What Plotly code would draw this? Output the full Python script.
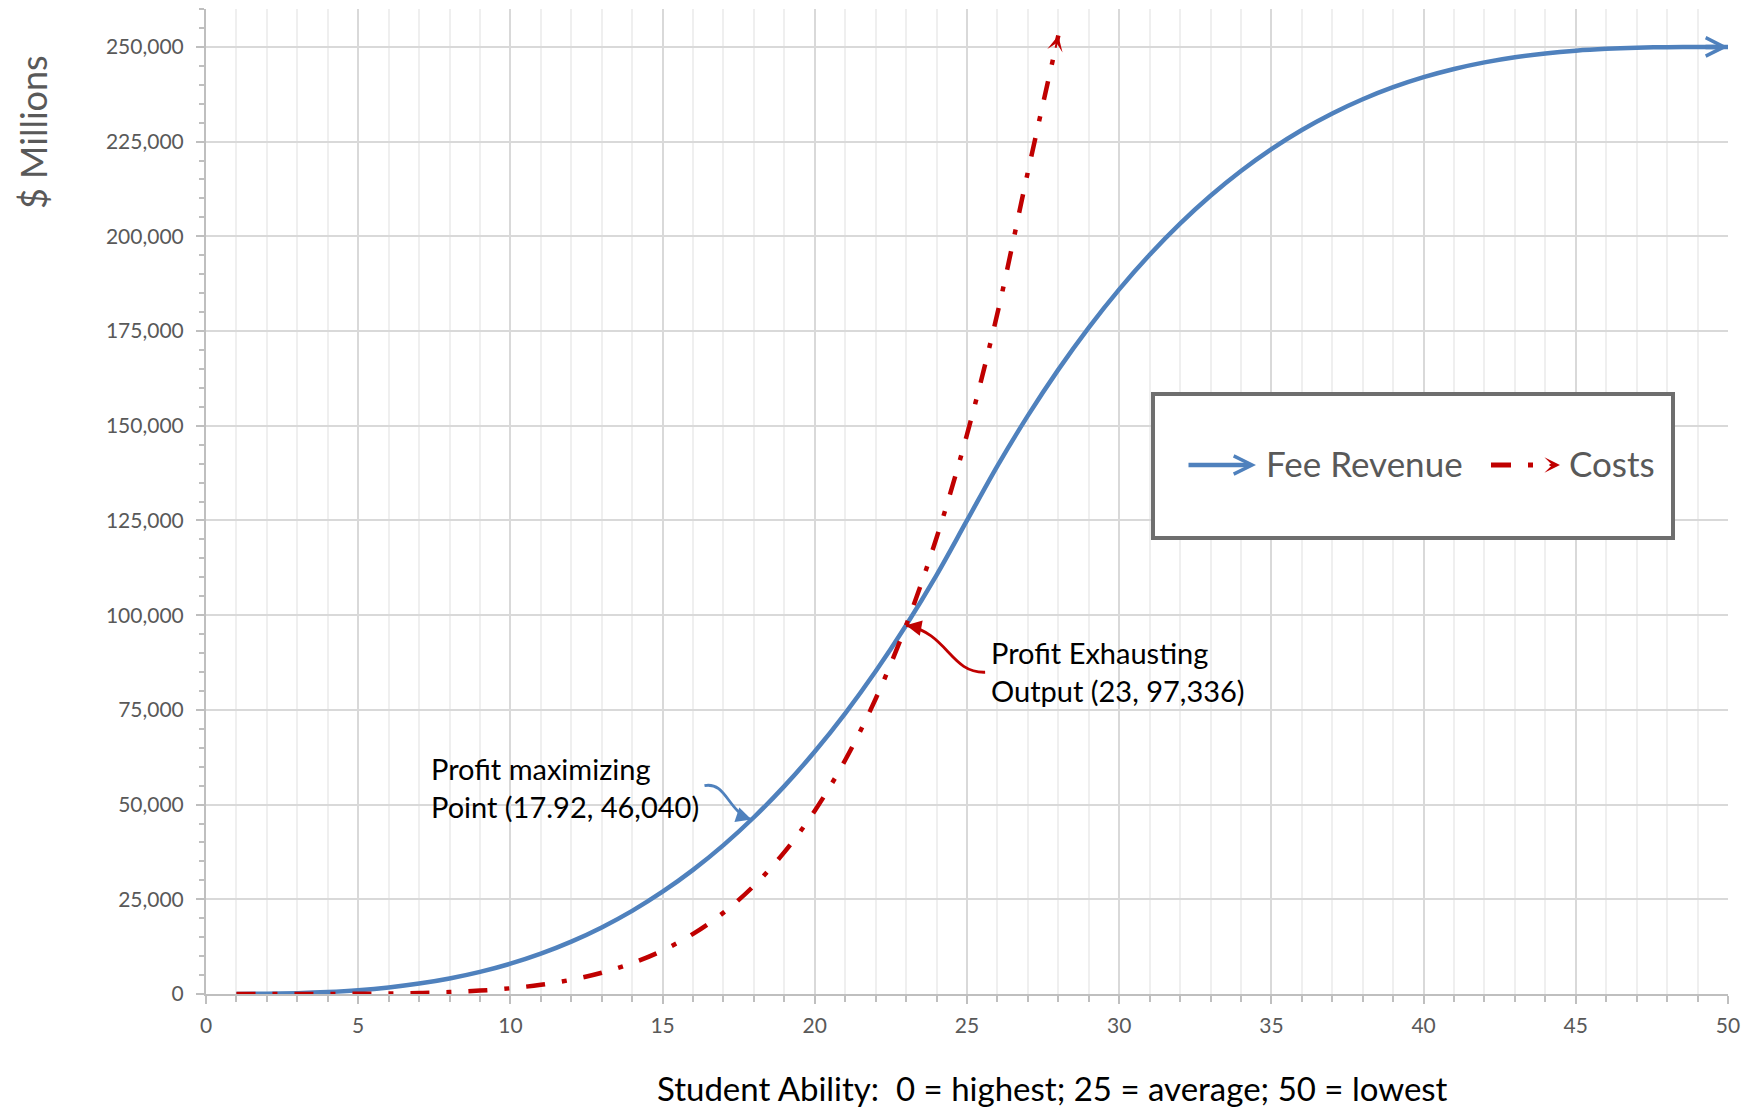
import math
import plotly.graph_objects as go

# ---------------------------------------------------------------
# Data: fee revenue and costs by student ability (0 = highest, 50 = lowest)
# ---------------------------------------------------------------
revenue_ability = list(range(1, 51))
fee_revenue = [8, 64, 216, 512, 1000, 1728, 2744, 4096, 5832, 8000,
               10648, 13824, 17576, 21952, 27000, 32768, 39304, 46656, 54872, 64000,
               74088, 85184, 97336, 110592, 125000, 139408, 152664, 164816, 175912, 186000,
               195128, 203344, 210696, 217232, 223000, 228048, 232424, 236176, 239352, 242000,
               244168, 245904, 247256, 248272, 249000, 249488, 249784, 249936, 249992, 250000]

cost_ability = list(range(1, 29))
costs = [0, 0, 4, 15, 47, 118, 254, 496, 893, 1512,
         2436, 3763, 5615, 8133, 11484, 15857, 21472, 28576, 37446, 48393,
         61764, 77938, 97336, 120418, 147684, 179681, 216997, 253000]

profit_max_point = (17.92, 46040)
profit_exhaust_point = (23, 97336)

series_names = ["Fee Revenue", "Costs"]
x_title = "Student Ability:  0 = highest; 25 = average; 50 = lowest"
y_title = "$ Millions"

# ---------------------------------------------------------------
# Layout geometry
# ---------------------------------------------------------------
W, H = 1754, 1110
ML, MR, MT, MB = 206, 26, 9, 116
PW, PH = W - ML - MR, H - MT - MB
X_RANGE = (0, 50)
Y_RANGE = (0, 260000)

BLUE = "#4F81BD"
RED = "#C00000"
GRAY_TEXT = "#595959"
FONT = "Lato, 'Open Sans', sans-serif"


def to_px(x, y):
    px = ML + (x - X_RANGE[0]) / (X_RANGE[1] - X_RANGE[0]) * PW
    py = MT + (Y_RANGE[1] - y) / (Y_RANGE[1] - Y_RANGE[0]) * PH
    return px, py


def to_data(px, py):
    x = X_RANGE[0] + (px - ML) / PW * (X_RANGE[1] - X_RANGE[0])
    y = Y_RANGE[1] - (py - MT) / PH * (Y_RANGE[1] - Y_RANGE[0])
    return x, y


def paper(px, py):
    return (px - ML) / PW, 1 - (py - MT) / PH


fig = go.Figure()

fig.add_trace(go.Scatter(
    x=revenue_ability, y=fee_revenue, mode="lines", name=series_names[0],
    line=dict(color=BLUE, width=4.5, shape="spline"), showlegend=False,
))
fig.add_trace(go.Scatter(
    x=cost_ability, y=costs, mode="lines", name=series_names[1],
    line=dict(color=RED, width=4.5, shape="spline", dash="19px,17px,5px,17px"),
    showlegend=False,
))

annotations = []
shapes = []


def end_arrow(xs, ys, color, head, width, size, length):
    """Arrowhead at the last point of a series, aligned with its final segment."""
    p1 = to_px(xs[-2], ys[-2])
    p2 = to_px(xs[-1], ys[-1])
    dx, dy = p1[0] - p2[0], p1[1] - p2[1]
    n = math.hypot(dx, dy)
    annotations.append(dict(
        x=xs[-1], y=ys[-1], xref="x", yref="y", ax=dx / n * length, ay=dy / n * length,
        axref="pixel", ayref="pixel", showarrow=True, arrowhead=head,
        arrowwidth=width, arrowsize=size, arrowcolor=color, text="", standoff=0,
    ))


end_arrow(revenue_ability, fee_revenue, BLUE, 5, 4.5, 0.8, 24)
end_arrow(cost_ability, costs, RED, 3, 2, 1.3, 14)


def curved_pointer(point, offsets, color, width, head_len):
    """Curved callout arrow ending at a data point; offsets are pixel offsets of
    the bezier control points relative to the tip (tail, c1, c2)."""
    tip = to_px(*point)
    pts = [to_data(tip[0] + ox, tip[1] + oy) for ox, oy in offsets] + [point]
    path = "M {},{} C {},{} {},{} {},{}".format(
        pts[0][0], pts[0][1], pts[1][0], pts[1][1],
        pts[2][0], pts[2][1], pts[3][0], pts[3][1])
    shapes.append(dict(type="path", path=path, xref="x", yref="y",
                       line=dict(color=color, width=width), layer="above"))
    cx, cy = offsets[2]
    n = math.hypot(cx, cy)
    annotations.append(dict(
        x=point[0], y=point[1], xref="x", yref="y",
        ax=cx / n * head_len, ay=cy / n * head_len, axref="pixel", ayref="pixel",
        showarrow=True, arrowhead=2, arrowwidth=width, arrowsize=1.1,
        arrowcolor=color, text="", standoff=0,
    ))


curved_pointer(profit_max_point, [(-47, -34), (-25, -38), (-24, -8)], BLUE, 2.8, 10)
curved_pointer(profit_exhaust_point, [(79, 47), (44, 48), (42, 8)], RED, 2.8, 10)

label_font = dict(family=FONT, size=29, color="black")
annotations.append(dict(
    x=profit_max_point[0], y=profit_max_point[1], xref="x", yref="y",
    text="Profit maximizing<br>Point ({}, {:,})".format(*profit_max_point),
    showarrow=False, xanchor="right", yanchor="middle", align="left",
    xshift=-50, yshift=32, font=label_font,
))
annotations.append(dict(
    x=profit_exhaust_point[0], y=profit_exhaust_point[1], xref="x", yref="y",
    text="Profit Exhausting<br>Output ({}, {:,})".format(*profit_exhaust_point),
    showarrow=False, xanchor="left", yanchor="middle", align="left",
    xshift=83, yshift=-46, font=label_font,
))

# Axis titles
tx, ty = paper(33, 132)
annotations.append(dict(x=tx, y=ty, xref="paper", yref="paper", text=y_title,
                        showarrow=False, textangle=-90, xanchor="center", yanchor="middle",
                        font=dict(family=FONT, size=36, color=GRAY_TEXT)))
tx, ty = paper(1052, 1088)
annotations.append(dict(x=tx, y=ty, xref="paper", yref="paper", text=x_title,
                        showarrow=False, xanchor="center", yanchor="middle",
                        font=dict(family=FONT, size=33, color="black")))

# Legend box drawn by hand so the entries can show arrow-ended lines
bx0, by0 = paper(1153, 394)
bx1, by1 = paper(1673, 538)
shapes.append(dict(type="rect", xref="paper", yref="paper", x0=bx0, y0=by1, x1=bx1, y1=by0,
                   line=dict(color="#6e6e6e", width=4), fillcolor="white", layer="above"))
ly = 465
lx, lyp = paper(1256, ly)
annotations.append(dict(x=lx, y=lyp, xref="paper", yref="paper", ax=-69, ay=0,
                        axref="pixel", ayref="pixel", showarrow=True, arrowhead=5,
                        arrowwidth=4.5, arrowsize=0.8, arrowcolor=BLUE, text="", standoff=0))
for a, b in [(1491, 1511), (1528, 1533)]:
    x0, yy = paper(a, ly)
    x1, _ = paper(b, ly)
    shapes.append(dict(type="line", xref="paper", yref="paper", x0=x0, x1=x1, y0=yy, y1=yy,
                       line=dict(color=RED, width=5), layer="above"))
lx, lyp = paper(1560, ly)
annotations.append(dict(x=lx, y=lyp, xref="paper", yref="paper", ax=-12, ay=0,
                        axref="pixel", ayref="pixel", showarrow=True, arrowhead=3,
                        arrowwidth=2, arrowsize=1.3, arrowcolor=RED, text="", standoff=0))
legend_font = dict(family=FONT, size=35, color=GRAY_TEXT)
for name, left in zip(series_names, [1264, 1567]):
    lx, lyp = paper(left, ly - 2)
    annotations.append(dict(x=lx, y=lyp, xref="paper", yref="paper", text=name,
                            showarrow=False, xanchor="left", yanchor="middle",
                            font=legend_font))

tick_font = dict(family=FONT, size=21, color=GRAY_TEXT)
fig.update_layout(
    template="none",
    width=W, height=H,
    margin=dict(l=ML, r=MR, t=MT, b=MB, pad=0),
    paper_bgcolor="white", plot_bgcolor="white",
    showlegend=False,
    xaxis=dict(
        range=list(X_RANGE), tick0=0, dtick=5, automargin=False,
        showgrid=True, gridcolor="#d9d9d9", gridwidth=1.5,
        showline=True, linecolor="#bfbfbf", linewidth=2, zeroline=False,
        ticks="outside", ticklen=8, tickcolor="#bfbfbf", tickwidth=1.5,
        tickfont=tick_font, ticklabelstandoff=4,
        minor=dict(dtick=1, showgrid=True, gridcolor="#efefef", gridwidth=1.5,
                   ticks="outside", ticklen=6, tickcolor="#bfbfbf", tickwidth=1.5),
    ),
    yaxis=dict(
        range=list(Y_RANGE), tick0=0, dtick=25000, tickformat=",d", automargin=False,
        showgrid=True, gridcolor="#d9d9d9", gridwidth=1.5,
        showline=True, linecolor="#bfbfbf", linewidth=2, zeroline=False,
        ticks="outside", ticklen=8, tickcolor="#bfbfbf", tickwidth=1.5,
        tickfont=tick_font, ticklabelstandoff=8,
        minor=dict(dtick=5000, showgrid=False,
                   ticks="outside", ticklen=5, tickcolor="#bfbfbf", tickwidth=1.5),
    ),
    annotations=annotations,
    shapes=shapes,
)

fig.write_html("out.html")
